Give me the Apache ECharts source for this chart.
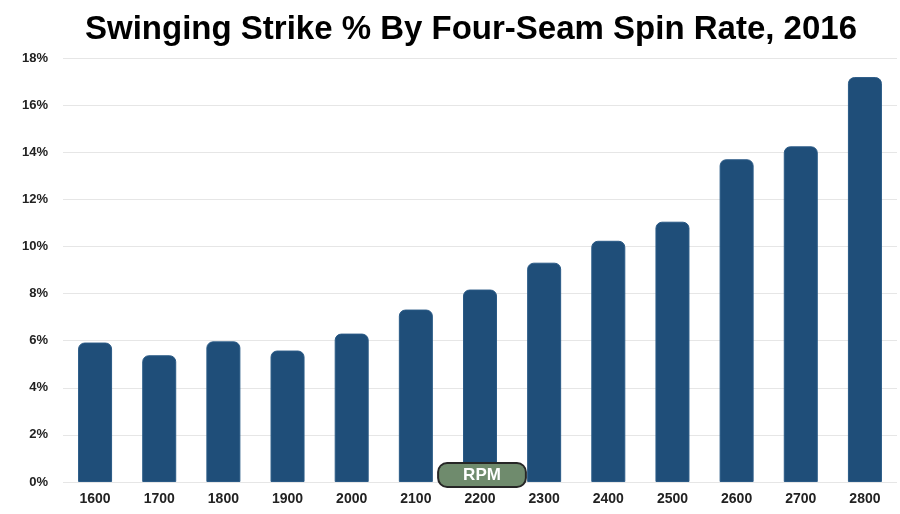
<!DOCTYPE html>
<html>
<head>
<meta charset="utf-8">
<script src="https://cdn.jsdelivr.net/npm/echarts@6/dist/echarts.min.js"></script>
<style>
  html, body { margin: 0; padding: 0; background: #fff; }
  #main { width: 900px; height: 514px; }
</style>
</head>
<body>
<div id="main"></div>
<script>
var spinRates = ['1600', '1700', '1800', '1900', '2000', '2100', '2200',
                 '2300', '2400', '2500', '2600', '2700', '2800'];
var swingStrikePct = [5.92, 5.38, 5.97, 5.58, 6.3, 7.32, 8.17,
                      9.31, 10.24, 11.05, 13.7, 14.25, 17.19];
var axisTitle = 'RPM';

var dom = document.getElementById('main');
var myChart = echarts.init(dom);

var option = {
    backgroundColor: '#fff',
    animation: false,
    title: {
        text: 'Swinging Strike % By Four-Seam Spin Rate, 2016',
        left: 466,
        top: 8,
        textAlign: 'center',
        textStyle: {
            fontFamily: 'Liberation Sans, Arial, sans-serif',
            fontSize: 33,
            fontWeight: 'bold',
            color: '#000'
        }
    },
    grid: {
        left: 63,
        right: 3,
        top: 58,
        bottom: 32,
        outerBoundsMode: 'none',
        containLabel: false
    },
    // the "RPM" badge sits over the axis, on top of the 2200 bar
    graphic: [{
        type: 'text',
        x: 482,
        y: 475,
        z: 100,
        style: {
            text: axisTitle,
            align: 'center',
            verticalAlign: 'middle',
            fontFamily: 'Liberation Sans, Arial, sans-serif',
            fontSize: 17,
            fontWeight: 'bold',
            fill: '#fff',
            backgroundColor: '#6f8b6d',
            borderColor: '#262626',
            borderWidth: 2,
            borderRadius: 8,
            padding: [3, 24, 2, 24]
        }
    }],
    xAxis: {
        type: 'category',
        data: spinRates,
        axisLine: { show: false },
        axisTick: { show: false },
        axisLabel: {
            margin: 10,
            fontFamily: 'Liberation Sans, Arial, sans-serif',
            fontSize: 14,
            fontWeight: 'bold',
            color: '#222'
        }
    },
    yAxis: {
        type: 'value',
        min: 0,
        max: 18,
        interval: 2,
        axisLine: { show: false },
        axisTick: { show: false },
        splitLine: {
            lineStyle: { color: '#e6e6e6', width: 1 }
        },
        axisLabel: {
            margin: 15,
            formatter: '{value}%',
            fontFamily: 'Liberation Sans, Arial, sans-serif',
            fontSize: 13,
            fontWeight: 'bold',
            color: '#222'
        }
    },
    series: [{
        name: 'Swinging Strike %',
        type: 'bar',
        data: swingStrikePct,
        barWidth: 34,
        itemStyle: {
            color: '#1f4e79',
            borderColor: '#2a5a86',
            borderWidth: 1,
            borderRadius: [6, 6, 0, 0]
        }
    }]
};

if (option && typeof option === 'object') {
    myChart.setOption(option, true);
}
</script>
</body>
</html>
